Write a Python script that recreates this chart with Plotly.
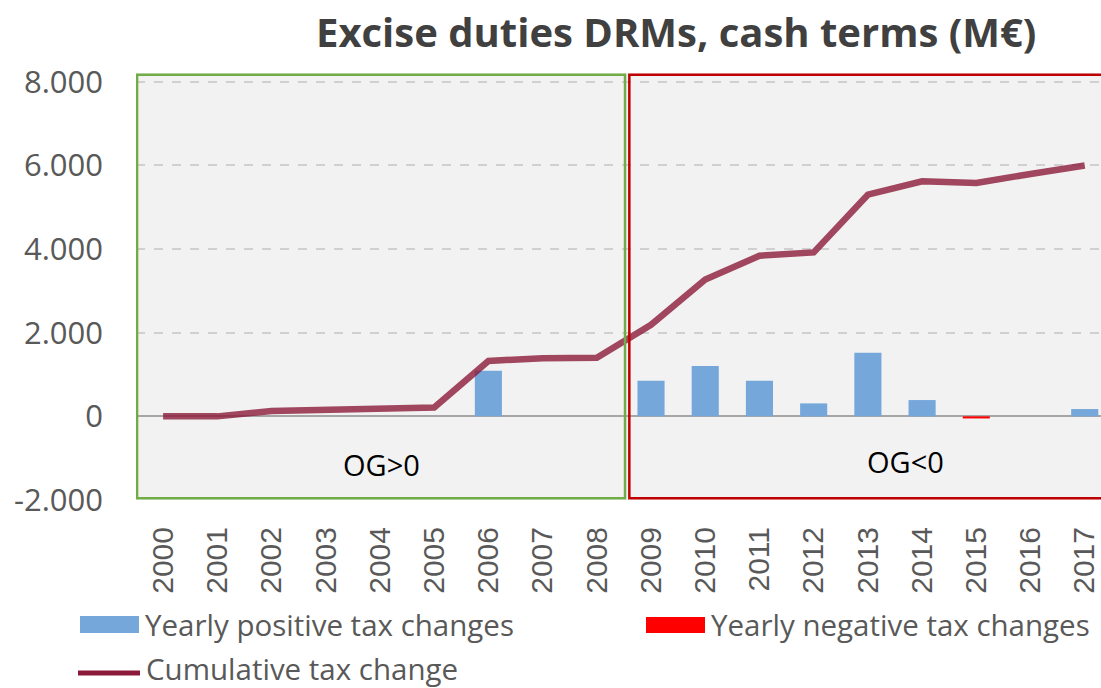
import plotly.graph_objects as go

# --- data -------------------------------------------------------------
years = [str(y) for y in range(2000, 2018)]
yearly_positive = [0, 0, 0, 0, 0, 0, 1090, 0, 0, 850, 1205, 850, 310, 1520, 390, 0, 0, 175]
yearly_negative = [0, 0, 0, 0, 0, 0, 0, 0, 0, 0, 0, 0, 0, 0, 0, -50, 0, 0]
cumulative = [0, 0, 130, 165, 175, 210, 1325, 1390, 1400, 2190, 3270, 3840, 3920, 5300, 5620, 5580, 5795, 6000]

y_tick_vals = [-2000, 0, 2000, 4000, 6000, 8000]
y_tick_text = ["-2.000", "0", "2.000", "4.000", "6.000", "8.000"]

series_names = ["Yearly positive tax changes", "Yearly negative tax changes", "Cumulative tax change"]
regime_labels = ["OG>0", "OG<0"]

# --- styling ----------------------------------------------------------
W, H = 1101, 688
M_L, M_R, M_T, M_B = 136, 0, 73, 188
BLUE = "#76A7DA"
RED = "#FF0000"
LINE = "rgba(139,26,58,0.8)"
LINE_SOLID = "#8B1A3A"
GREEN_BOX = "#70AD47"
RED_BOX = "#C00000"
GREY_TXT = "#595959"
FONT = "Open Sans, Lato, sans-serif"


def px_x(p):
    return (p - M_L) / (W - M_L - M_R)


def px_y(p):
    return (H - M_B - p) / (H - M_T - M_B)


fig = go.Figure()
fig.add_trace(go.Bar(x=years, y=yearly_positive, name=series_names[0],
                     marker=dict(color=BLUE, line=dict(width=0)), width=0.5))
fig.add_trace(go.Bar(x=years, y=yearly_negative, name=series_names[1],
                     marker=dict(color=RED, line=dict(width=0)), width=0.5))
fig.add_trace(go.Scatter(x=years, y=cumulative, name=series_names[2], mode="lines",
                         line=dict(color=LINE, width=6.5)))

shapes = [
    # regime boxes
    dict(type="rect", xref="x", yref="paper", x0=-0.48, x1=8.52, y0=0.004, y1=0.996,
         line=dict(color=GREEN_BOX, width=2.5), fillcolor="rgba(0,0,0,0)", layer="above"),
    dict(type="rect", xref="x", yref="paper", x0=8.6, x1=17.6, y0=0.004, y1=0.996,
         line=dict(color=RED_BOX, width=2.5), fillcolor="rgba(0,0,0,0)", layer="above"),
    # legend swatches
    dict(type="rect", xref="paper", yref="paper", x0=px_x(80), x1=px_x(139),
         y0=px_y(633), y1=px_y(616), fillcolor=BLUE, line=dict(width=0)),
    dict(type="rect", xref="paper", yref="paper", x0=px_x(646), x1=px_x(705),
         y0=px_y(633), y1=px_y(617), fillcolor=RED, line=dict(width=0)),
    dict(type="line", xref="paper", yref="paper", x0=px_x(78), x1=px_x(140),
         y0=px_y(673), y1=px_y(673), line=dict(color=LINE_SOLID, width=5)),
]

annotations = [
    dict(text="Excise duties DRMs, cash terms (M€)", xref="paper", yref="paper",
         x=px_x(676), y=px_y(32), xanchor="center", yanchor="middle", showarrow=False,
         font=dict(family="Open Sans, sans-serif", size=40, color="#404040", weight="bold")),
    dict(text=regime_labels[0], xref="x", yref="y", x=4.02, y=-1140, showarrow=False,
         font=dict(family=FONT, size=29, color="#000000")),
    dict(text=regime_labels[1], xref="x", yref="y", x=13.69, y=-1090, showarrow=False,
         font=dict(family=FONT, size=29, color="#000000")),
    dict(text=series_names[0], xref="paper", yref="paper", x=px_x(143), y=px_y(624),
         xanchor="left", yanchor="middle", showarrow=False,
         font=dict(family=FONT, size=29.5, color=GREY_TXT)),
    dict(text=series_names[1], xref="paper", yref="paper", x=px_x(709), y=px_y(624),
         xanchor="left", yanchor="middle", showarrow=False,
         font=dict(family=FONT, size=29.5, color=GREY_TXT)),
    dict(text=series_names[2], xref="paper", yref="paper", x=px_x(144), y=px_y(668),
         xanchor="left", yanchor="middle", showarrow=False,
         font=dict(family=FONT, size=29.5, color=GREY_TXT)),
]

fig.update_layout(
    width=W, height=H,
    margin=dict(l=M_L, r=M_R, t=M_T, b=M_B, pad=0),
    paper_bgcolor="#FFFFFF",
    plot_bgcolor="#F2F2F2",
    barmode="relative",
    showlegend=False,
    shapes=shapes,
    annotations=annotations,
    xaxis=dict(type="category", range=[-0.5, 17.3], tickangle=-90,
               tickfont=dict(family="Liberation Sans, Arial, sans-serif", size=30, color=GREY_TXT),
               ticks="", showgrid=False, zeroline=False, showline=False,
               ticklabelstandoff=20),
    yaxis=dict(range=[-2000, 8210], tickvals=y_tick_vals, ticktext=y_tick_text,
               tickfont=dict(family=FONT, size=31, color=GREY_TXT),
               showgrid=True, gridcolor="#D0D0D0", griddash="dash", gridwidth=1.5,
               zeroline=True, zerolinecolor="#A6A6A6", zerolinewidth=2,
               showline=False, ticks="", ticklabelstandoff=32),
)

fig.write_html("out.html")
